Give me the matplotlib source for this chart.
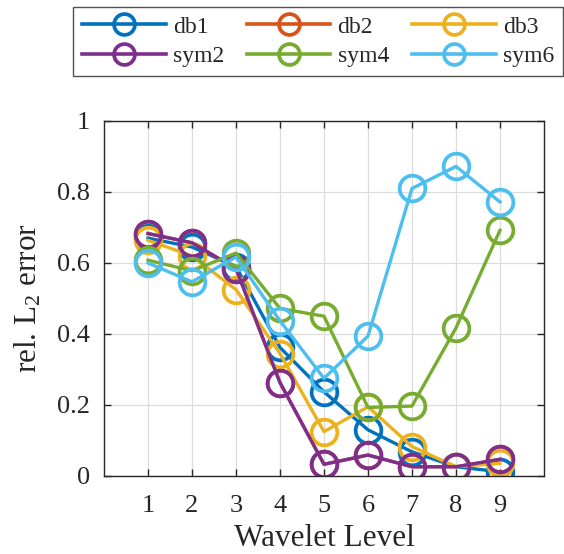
import matplotlib
matplotlib.use("Agg")
import matplotlib.pyplot as plt

plt.rcParams['font.family'] = ['Liberation Serif', 'DejaVu Serif']
plt.rcParams['mathtext.fontset'] = 'custom'
plt.rcParams['mathtext.rm'] = 'Liberation Serif'
plt.rcParams['mathtext.it'] = 'Liberation Serif:italic'

levels = [1, 2, 3, 4, 5, 6, 7, 8, 9]
db1 = [0.670, 0.645, 0.590, 0.362, 0.237, 0.130, 0.068, 0.026, 0.012]
db2 = [0.683, 0.657, 0.584, 0.263, 0.033, 0.059, 0.026, 0.026, 0.047]
db3 = [0.664, 0.620, 0.525, 0.345, 0.125, 0.195, 0.083, 0.026, 0.036]
sym2 = [0.683, 0.657, 0.584, 0.263, 0.033, 0.059, 0.026, 0.026, 0.047]
sym4 = [0.608, 0.578, 0.628, 0.472, 0.450, 0.193, 0.197, 0.417, 0.692]
sym6 = [0.600, 0.547, 0.617, 0.437, 0.275, 0.394, 0.810, 0.872, 0.772]

names = ['db1', 'db2', 'db3', 'sym2', 'sym4', 'sym6']
series = [db1, db2, db3, sym2, sym4, sym6]
colors = ['#0072BD', '#D95319', '#EDB120', '#7E2F8E', '#77AC30', '#4DBEEE']

fig = plt.figure(figsize=(5.64, 5.54), dpi=100)
ax = fig.add_axes([0.1844, 0.1408, 0.7801, 0.6408])

handles = []
for name, vals, c in zip(names, series, colors):
    h, = ax.plot(levels, vals, '-o', color=c, lw=2.4, ms=18.5, mfc='none', mew=2.7, label=name)
    handles.append(h)

ax.set_xlim(0, 10)
ax.set_ylim(0, 1)
ax.set_xticks(levels)
ax.set_yticks([0, 0.2, 0.4, 0.6, 0.8, 1.0])
ax.set_yticklabels(['0', '0.2', '0.4', '0.6', '0.8', '1'])
ax.grid(True, color='#dcdcdc', lw=0.9)
ax.set_axisbelow(True)
ax.tick_params(direction='in', top=True, right=True, length=5, width=1, labelsize=19,
               colors='#262626')
ax.tick_params(axis='x', pad=14)
ax.tick_params(axis='y', pad=10)
for s in ax.spines.values():
    s.set_color('#262626')
    s.set_linewidth(1.0)
ax.set_xlabel('Wavelet Level', fontsize=22.5, color='#262626', labelpad=5)
ax.set_ylabel('rel. L$_2$ error', fontsize=22.5, color='#262626', labelpad=10)

# row-major ordering for a 2x3 legend
order = [0, 3, 1, 4, 2, 5]
leg = fig.legend([handles[i] for i in order], [names[i] for i in order],
                 loc='upper left', bbox_to_anchor=(0.129, 0.861, 0.869, 0.126),
                 mode='expand', ncol=3, fontsize=17, frameon=True, fancybox=False,
                 edgecolor='#262626', handlelength=3.55, handletextpad=0.3,
                 columnspacing=1.1, borderpad=0.38, labelspacing=0.35, borderaxespad=0)
leg.get_frame().set_linewidth(1.0)
for t in leg.get_texts():
    t.set_color('#262626')
for h in leg.legend_handles:
    h.set_markersize(15)
    h.set_linewidth(2.6)

fig.savefig('out.png', dpi=100)
